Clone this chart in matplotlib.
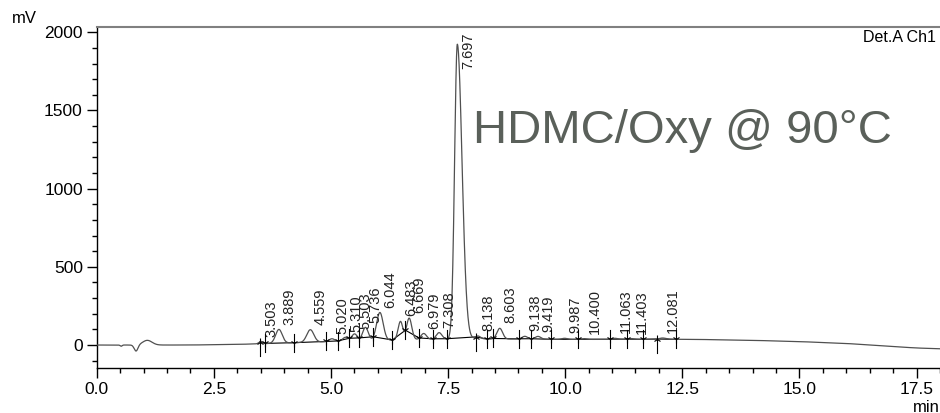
import numpy as np
import matplotlib
matplotlib.use("Agg")
import matplotlib.pyplot as plt
from matplotlib.ticker import MultipleLocator, FormatStrFormatter

plt.rcParams['font.family'] = ['Liberation Sans', 'DejaVu Sans']

# Labelled peaks: retention time (min), height above drift (mV), left/right widths (min)
peak_times = [3.503, 3.889, 4.559, 5.020, 5.310, 5.503, 5.736, 6.044, 6.483, 6.669,
              6.979, 7.308, 7.697, 8.138, 8.603, 9.138, 9.419, 9.987, 10.400,
              11.063, 11.403, 12.081]
peak_heights = [15, 88, 80, 18, 25, 45, 85, 178, 118, 138,
                38, 42, 1885, 18, 68, 18, 18, 7, 5,
                7, 5, 8]
peak_sigma_left = [0.04, 0.07, 0.075, 0.06, 0.06, 0.06, 0.06, 0.07, 0.05, 0.055,
                   0.06, 0.06, 0.058, 0.05, 0.06, 0.06, 0.06, 0.06, 0.06,
                   0.06, 0.06, 0.07]
peak_sigma_right = [0.04, 0.07, 0.075, 0.06, 0.06, 0.06, 0.06, 0.07, 0.05, 0.055,
                    0.06, 0.06, 0.10, 0.05, 0.06, 0.06, 0.06, 0.06, 0.06,
                    0.06, 0.06, 0.07]
peak_labels = ["3.503", "3.889", "4.559", "5.020", "5.310", "5.503", "5.736", "6.044",
               "6.483", "6.669", "6.979", "7.308", "7.697", "8.138", "8.603", "9.138",
               "9.419", "9.987", "10.400", "11.063", "11.403", "12.081"]

# Injection disturbance near the start of the run
inj_times = [0.52, 0.84, 1.08]
inj_heights = [-8, -40, 30]
inj_sigma = [0.02, 0.04, 0.10]

# Slow baseline drift (min, mV)
drift_times = [0.0, 2.0, 2.5, 3.0, 3.5, 4.0, 5.0, 6.0, 7.0, 8.0, 9.0, 10.0, 11.0,
               12.0, 12.8, 14.0, 15.0, 16.0, 17.0, 17.5, 18.0]
drift_values = [0, 0, 2, 4, 8, 13, 22, 30, 36, 40, 38, 36, 36,
                37, 36, 30, 22, 10, -10, -19, -24]

# Integration marks (min)
start_marks = [3.485, 8.09, 11.95]
valley_marks = [3.59, 4.21, 4.89, 5.14, 5.39, 5.60, 5.90, 6.31, 6.59, 6.88, 7.17,
                7.48, 8.32, 8.45, 9.01, 9.26, 9.69, 10.28, 10.95, 11.31, 11.66, 12.36]

x_ticks = [0.0, 2.5, 5.0, 7.5, 10.0, 12.5, 15.0, 17.5]
y_ticks = [0, 500, 1000, 1500, 2000]

t = np.linspace(0, 18, 7201)


def trace(tt):
    tt = np.asarray(tt, dtype=float)
    y = np.interp(tt, drift_times, drift_values)
    for c, h, sl, sr in zip(peak_times, peak_heights, peak_sigma_left, peak_sigma_right):
        s = np.where(tt < c, sl, sr)
        y = y + h * np.exp(-0.5 * ((tt - c) / s) ** 2)
    for c, h, s in zip(inj_times, inj_heights, inj_sigma):
        y = y + h * np.exp(-0.5 * ((tt - c) / s) ** 2)
    return y


signal = trace(t)

fig = plt.figure(figsize=(9.4, 4.13), dpi=100)
ax = fig.add_axes([0.1029, 0.1097, 0.8971, 0.8257])
ax.set_xlim(0, 18)
ax.set_ylim(-145, 2036)

ax.plot(t, signal, color='#505050', lw=0.9, zorder=3)

# integration baseline through the marks
all_marks = sorted(start_marks + valley_marks)
ax.plot(all_marks, trace(all_marks), color='black', lw=0.8, zorder=2)

px = 2181.0 / 341.0  # mV per pixel
for m in start_marks:
    v = trace(m)
    ax.plot([m, m], [v - 14 * px, v], color='black', lw=0.8, zorder=4)
    ax.plot([m], [v], marker='2', ms=6, mew=0.8, color='black', zorder=4)
for m in valley_marks:
    v = trace(m)
    ax.plot([m, m], [v - 9 * px, v + 9 * px], color='black', lw=0.8, zorder=4)
    ax.plot([m], [v], marker='1', ms=6, mew=0.8, color='black', zorder=4)

for c, lab in zip(peak_times, peak_labels):
    v = float(trace(c))
    if v > 1500:
        ax.annotate(lab, xy=(c, 1), xycoords=('data', 'axes fraction'),
                    xytext=(2.5, -4), textcoords='offset points',
                    rotation=90, ha='left', va='top', fontsize=10.5, color='#222222')
    else:
        ax.annotate(lab, xy=(c, v), xytext=(2.5, 3.5), textcoords='offset points',
                    rotation=90, ha='left', va='bottom', fontsize=10.5, color='#222222')

ax.xaxis.set_major_locator(plt.FixedLocator(x_ticks))
ax.xaxis.set_minor_locator(MultipleLocator(0.5))
ax.xaxis.set_major_formatter(FormatStrFormatter('%.1f'))
ax.yaxis.set_major_locator(plt.FixedLocator(y_ticks))
ax.yaxis.set_minor_locator(MultipleLocator(100))

ax.tick_params(axis='both', which='major', direction='out', length=7, width=1,
               labelsize=12.5, colors='black', pad=3)
ax.tick_params(axis='both', which='minor', direction='out', length=3.5, width=1,
               colors='black')

for side in ('left', 'bottom'):
    ax.spines[side].set_color('black')
    ax.spines[side].set_linewidth(1.0)
ax.spines['top'].set_color('#808080')
ax.spines['top'].set_linewidth(1.5)
ax.spines['right'].set_visible(False)

fig.text(11.5 / 940, 1 - 18.3 / 413, 'mV', ha='left', va='center', fontsize=12)
fig.text(912.7 / 940, 1 - 407 / 413, 'min', ha='left', va='center', fontsize=12)
fig.text(936 / 940, 1 - 37.5 / 413, 'Det.A Ch1', ha='right', va='center', fontsize=11.5)
fig.text(472.7 / 940, 1 - 142.7 / 413, 'HDMC/Oxy @ 90\u00b0C', ha='left',
         va='baseline', fontsize=34, color='#5a605a')

fig.savefig('out.png', dpi=100)
